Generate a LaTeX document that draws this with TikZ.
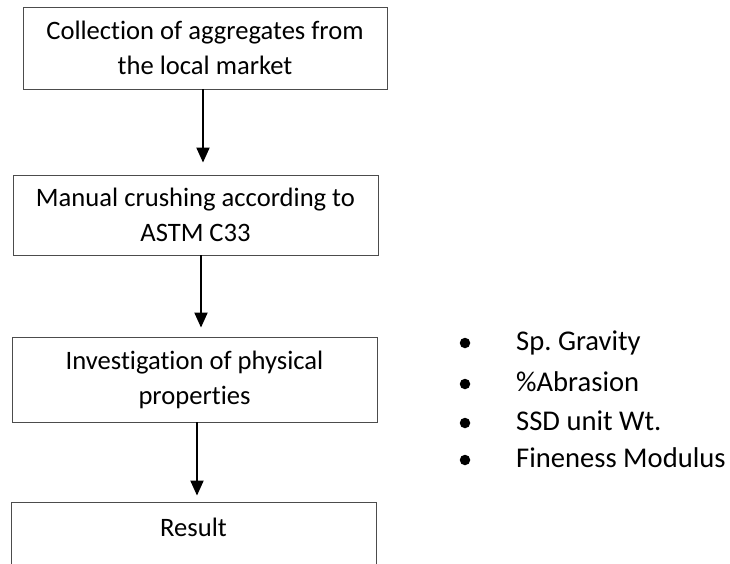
\documentclass[tikz,border=0pt]{standalone}
\usepackage{fontspec}
\setmainfont[Ligatures={NoCommon}]{Carlito}
\usetikzlibrary{arrows.meta}
\frenchspacing
\begin{document}
\begin{tikzpicture}[x=1pt,y=-1pt,
  box/.style={draw=black!70, line width=0.9pt, rectangle, inner sep=0pt, align=center,
    font=\fontsize{26.6}{35}\selectfont},
  arr/.style={line width=2pt, -{Triangle[width=13pt,length=15pt]}},
  item/.style={anchor=base west, inner sep=0pt, font=\fontsize{28.6}{34}\selectfont},
  bullet/.style={circle, fill=black, inner sep=0pt, minimum size=10.5pt}]
\useasboundingbox (0,0) rectangle (730,563);
\node[box, minimum width=364pt, minimum height=82pt] (b1) at (205,48)
  {Collection of aggregates from\\the local market};
\node[box, minimum width=365pt, minimum height=80pt] (b2) at (195.5,215)
  {Manual crushing according to\\ASTM C33};
\node[box, minimum width=365pt, minimum height=85pt] (b3) at (194.5,379.5)
  {Investigation of physical\\properties};
\begin{scope}
\clip (0,0) rectangle (730,563);
\node[box, minimum width=365pt, minimum height=80pt, text height=0pt, text depth=12pt] (b4) at (193.5,542)
  {Result};
\end{scope}
\draw[arr, shorten >=12pt] ([xshift=-2pt]b1.south) -- ([xshift=-2pt]b1.south |- b2.north);
\draw[arr, shorten >=9pt] ([xshift=5.5pt]b2.south) -- ([xshift=5.5pt]b2.south |- b3.north);
\draw[arr, shorten >=6pt] ([xshift=2.5pt]b3.south) -- ([xshift=2.5pt]b3.south |- b4.north);
\node[bullet] (d1) at (465,343) {};
\node[bullet] (d2) at (465,384) {};
\node[bullet] (d3) at (465,423) {};
\node[bullet] (d4) at (465,460) {};
\node[item] (t1) at (516,350) {Sp. Gravity};
\node[item] (t2) at (516,391) {\%Abrasion};
\node[item] (t3) at (516,430) {SSD unit Wt.};
\node[item] (t4) at (516,467) {Fineness Modulus};
\end{tikzpicture}
\end{document}
